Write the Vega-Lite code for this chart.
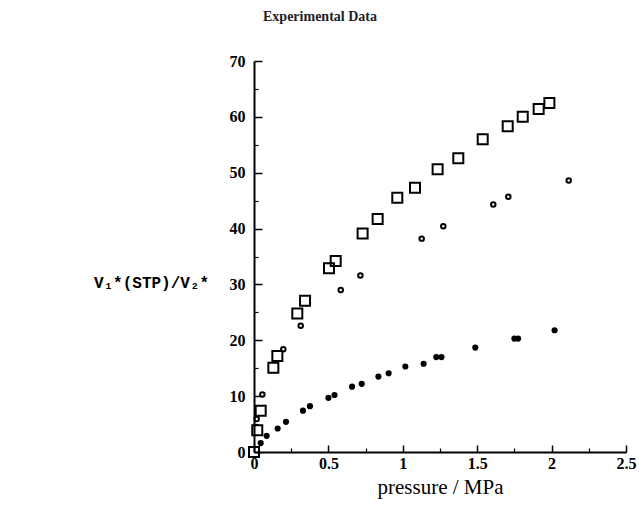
{
  "$schema": "https://vega.github.io/schema/vega-lite/v6.json",
  "width": 372,
  "height": 391,
  "autosize": {"type": "none"},
  "padding": {"left": 254, "top": 61, "right": 13, "bottom": 55},
  "background": "white",
  "config": {"view": {"stroke": null}},
  "title": {"text": "Experimental Data", "font": "Liberation Serif", "fontSize": 14, "fontWeight": "bold", "color": "#222222", "anchor": "middle", "dx": -120, "offset": 29},
  "datasets": {
    "squares": [
      {"p": 0, "v": 0}, {"p": 0.022, "v": 3.9}, {"p": 0.045, "v": 7.4}, {"p": 0.13, "v": 15.1}, {"p": 0.157, "v": 17.2},
      {"p": 0.291, "v": 24.8}, {"p": 0.343, "v": 27.1}, {"p": 0.504, "v": 32.9}, {"p": 0.549, "v": 34.2}, {"p": 0.73, "v": 39.1},
      {"p": 0.831, "v": 41.7}, {"p": 0.963, "v": 45.5}, {"p": 1.082, "v": 47.3}, {"p": 1.234, "v": 50.6}, {"p": 1.373, "v": 52.6},
      {"p": 1.537, "v": 56.0}, {"p": 1.705, "v": 58.3}, {"p": 1.806, "v": 60.0}, {"p": 1.913, "v": 61.4}, {"p": 1.985, "v": 62.5}
    ],
    "open": [
      {"p": 0.018, "v": 5.9}, {"p": 0.056, "v": 10.3}, {"p": 0.197, "v": 18.4}, {"p": 0.314, "v": 22.6}, {"p": 0.583, "v": 29.0},
      {"p": 0.715, "v": 31.6}, {"p": 1.127, "v": 38.2}, {"p": 1.272, "v": 40.4}, {"p": 1.608, "v": 44.3}, {"p": 1.709, "v": 45.7},
      {"p": 2.115, "v": 48.6}
    ],
    "filled": [
      {"p": 0.045, "v": 1.6}, {"p": 0.085, "v": 2.9}, {"p": 0.159, "v": 4.2}, {"p": 0.215, "v": 5.4}, {"p": 0.329, "v": 7.4},
      {"p": 0.376, "v": 8.2}, {"p": 0.5, "v": 9.7}, {"p": 0.541, "v": 10.2}, {"p": 0.659, "v": 11.7}, {"p": 0.724, "v": 12.2},
      {"p": 0.836, "v": 13.5}, {"p": 0.905, "v": 14.1}, {"p": 1.017, "v": 15.3}, {"p": 1.14, "v": 15.8}, {"p": 1.225, "v": 17.0},
      {"p": 1.26, "v": 17.0}, {"p": 1.487, "v": 18.7}, {"p": 1.75, "v": 20.3}, {"p": 1.775, "v": 20.3}, {"p": 2.02, "v": 21.8}
    ]
  },
  "resolve": {"axis": {"x": "independent", "y": "independent"}},
  "layer": [
    {
      "data": {"name": "squares"},
      "mark": {"type": "point", "shape": "square", "filled": false, "stroke": "black", "strokeWidth": 2, "size": 100, "opacity": 1},
      "encoding": {
        "x": {"field": "p", "type": "quantitative", "scale": {"domain": [0, 2.5], "nice": false},
          "axis": {"orient": "bottom", "values": [0, 0.5, 1, 1.5, 2, 2.5], "format": "~g", "grid": false, "tickSize": -7, "tickWidth": 1.5, "tickColor": "black", "domainColor": "black", "domainWidth": 2, "labelPadding": 10, "labelFont": "Liberation Serif", "labelFontWeight": "bold", "labelFontSize": 16, "labelColor": "black", "labelFlush": false, "labelOverlap": false,
            "title": "pressure / MPa", "titleFont": "Liberation Serif", "titleFontWeight": "normal", "titleFontSize": 21, "titleColor": "black", "titlePadding": 5}},
        "y": {"field": "v", "type": "quantitative", "scale": {"domain": [0, 70], "nice": false},
          "axis": {"orient": "left", "values": [0, 10, 20, 30, 40, 50, 60, 70], "grid": false, "tickSize": -8, "tickWidth": 1.5, "tickColor": "black", "domainColor": "black", "domainWidth": 2, "labelPadding": 17, "labelFont": "Liberation Serif", "labelFontWeight": "bold", "labelFontSize": 16, "labelColor": "black", "labelFlush": false, "labelOverlap": false,
            "title": "V₁*(STP)/V₂*", "titleFont": "Liberation Mono", "titleFontWeight": "bold", "titleFontSize": 16, "titleColor": "black", "titleAngle": 0, "titleAlign": "center", "titleBaseline": "middle", "titleX": -103, "titleY": 221}}
      }
    },
    {
      "data": {"name": "open"},
      "mark": {"type": "point", "shape": "circle", "filled": false, "stroke": "black", "strokeWidth": 2, "size": 20, "opacity": 1},
      "encoding": {
        "x": {"field": "p", "type": "quantitative", "scale": {"domain": [0, 2.5], "nice": false},
          "axis": {"orient": "bottom", "values": [0.25, 0.75, 1.25, 1.75, 2.25], "grid": false, "labels": false, "domain": false, "tickSize": -4, "tickWidth": 1.2, "tickColor": "black", "title": null}},
        "y": {"field": "v", "type": "quantitative", "scale": {"domain": [0, 70], "nice": false},
          "axis": {"orient": "left", "values": [5, 15, 25, 35, 45, 55, 65], "grid": false, "labels": false, "domain": false, "tickSize": -4, "tickWidth": 1.2, "tickColor": "black", "title": null}}
      }
    },
    {
      "data": {"name": "filled"},
      "mark": {"type": "point", "shape": "circle", "filled": true, "fill": "black", "size": 38, "opacity": 1},
      "encoding": {
        "x": {"field": "p", "type": "quantitative", "scale": {"domain": [0, 2.5], "nice": false}, "axis": null},
        "y": {"field": "v", "type": "quantitative", "scale": {"domain": [0, 70], "nice": false}, "axis": null}
      }
    }
  ]
}
